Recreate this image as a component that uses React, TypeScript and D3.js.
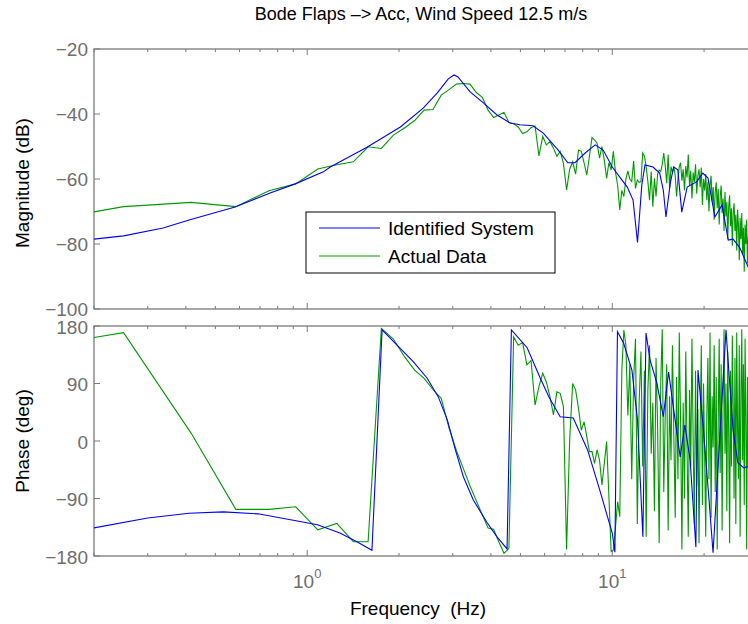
import React from 'react';
import * as d3 from 'd3';

const TITLE = 'Bode Flaps \u2013> Acc, Wind Speed 12.5 m/s';
const X_LABEL = 'Frequency\u00a0\u00a0(Hz)';
const MAG_LABEL = 'Magnitude (dB)';
const PHASE_LABEL = 'Phase (deg)';
const legendLabels = ['Identified System', 'Actual Data'];
const magTicks = [-100, -80, -60, -40, -20];
const phaseTicks = [-180, -90, 0, 90, 180];
const xMajorTicks = [1, 10];
const xMinorTicks = [0.2, 0.3, 0.4, 0.5, 0.6, 0.7, 0.8, 0.9, 2, 3, 4, 5, 6, 7, 8, 9, 20];

// Identified System (smooth model)
const idMagFreq = [0.2, 0.25, 0.337, 0.41, 0.58, 0.756, 0.913, 1.13, 1.19, 1.57, 2.02, 2.4, 2.67, 2.9, 3.03, 3.12, 3.42, 3.78, 4.19, 4.63, 4.98, 5.5, 5.94, 6.65, 7.15, 7.55, 8.15, 8.79, 9.34, 10.0, 10.6, 11.2, 11.7, 12.1, 12.5, 12.8, 13.6, 14.3, 14.7, 15.0, 15.5, 15.9, 16.4, 16.9, 17.6, 18.9, 19.8, 20.6, 21.7, 22.9, 24.0, 24.9, 26.2, 27.9, 29.0];
const idMagDb = [-78.5, -77.5, -75.1, -72.6, -68.6, -64.3, -61.5, -57.8, -56.3, -50.2, -44.0, -38.2, -33.5, -29.2, -28.0, -28.6, -33.2, -36.6, -40.3, -42.8, -43.3, -43.6, -45.9, -51.1, -55.0, -55.0, -52.0, -49.5, -51.1, -56.3, -59.5, -62.5, -66.5, -79.5, -61.8, -55.7, -56.3, -58.2, -63.4, -71.7, -61.2, -56.3, -57.2, -70.2, -62.5, -60.9, -58.2, -59.7, -71.7, -68.0, -78.8, -78.5, -81.2, -87.1, -90.0];
const idPhaseFreq = [0.2, 0.3, 0.41, 0.53, 0.69, 0.9, 1.08, 1.28, 1.46, 1.63, 1.76, 1.97, 2.23, 2.47, 2.69, 2.88, 3.06, 3.25, 3.5, 3.89, 4.19, 4.52, 4.67, 5.26, 5.8, 6.2, 6.75, 7.45, 8.3, 9.1, 10.0, 10.2, 10.4, 10.9, 11.6, 12.1, 12.6, 12.9, 13.3, 14.0, 14.7, 15.3, 15.8, 16.7, 17.3, 18.0, 18.8, 19.1, 19.9, 20.8, 21.4, 23.6, 24.0, 24.9, 25.8, 27.0, 27.9, 29.0];
const idPhaseDeg = [-136, -120.5, -113, -111, -114, -124, -131, -144, -158, -171, 174, 150, 124, 98.6, 69, 33, -14, -56, -92, -128, -150, -169, 174, 146, 99, 69, 38, 36, -14, -77, -144, -174, 171, 153, 111, 33, -150, 169, 127, 91, 38, 108, 59, -25, 25, -30, -166, 111, 17, -97, -175, 174, 122, 17, -34, -42, -40, -40];

// Actual Data, sampled at odd multiples of 1/12 Hz
const dataFreq = d3.range(171).map((k) => (2 * k + 1) / 12);
const dataMagDb = [
  -76.4, -68.5, -67.2, -68.5, -63.6, -61.5, -56.9, -55.6, -54.7, -50.1,
  -50.6, -46.5, -44.3, -42.0, -38.8, -38.6, -34.2, -32.5, -30.8, -30.6,
  -30.8, -33.4, -34.9, -38.8, -41.1, -40.3, -39.5, -42.6, -43.0, -44.0,
  -46.0, -45.5, -44.2, -43.7, -52.9, -46.9, -49.5, -48.5, -50.5, -53.0,
  -51.5, -55.2, -63.4, -57.0, -54.7, -58.5, -51.1, -51.5, -55.0, -58.8,
  -53.0, -47.2, -48.0, -49.0, -53.6, -50.0, -54.2, -59.8, -55.0, -57.2,
  -51.5, -58.0, -62.0, -69.5, -63.5, -65.4, -60.0, -57.5, -60.0, -60.8,
  -54.5, -62.9, -60.3, -61.0, -60.8, -52.0, -53.0, -56.2, -60.8, -66.5,
  -57.7, -68.5, -59.8, -65.4, -58.5, -57.2, -57.7, -55.5, -52.0, -56.0,
  -61.3, -52.5, -62.9, -56.2, -58.0, -56.2, -59.0, -65.4, -60.0, -56.2,
  -55.0, -60.5, -57.0, -63.5, -56.0, -59.5, -52.5, -62.0, -57.5, -66.0,
  -58.0, -61.0, -55.5, -64.5, -59.0, -57.0, -62.5, -56.5, -68.0, -60.0,
  -63.5, -58.5, -66.5, -61.0, -70.0, -62.0, -59.0, -67.0, -62.5, -72.5,
  -64.0, -61.0, -69.0, -63.0, -74.0, -65.5, -62.0, -70.5, -66.0, -76.0,
  -64.0, -71.5, -67.0, -78.5, -68.5, -65.0, -74.5, -69.0, -80.5, -70.0,
  -67.5, -76.0, -71.0, -82.0, -69.5, -74.0, -85.0, -72.0, -78.5, -70.5,
  -83.0, -75.0, -88.5, -74.0, -80.0, -72.5, -86.0, -78.0, -89.0, -80.0,
  -84.0,
];
const dataPhaseDeg = [
  132.5, 169.5, 12, -107, -107, -103, -139, -129, -157.6, -157.6,
  176.3, 159.6, 132, 111, 98, 80.6, 66.8, 20.3, -14.9, -43.3,
  -70, -93.7, -115.6, -136.2, -138.2, -158, -175.8, -168, 163, 150,
  154, 119, 125.7, 56.3, 85, 106, 92, 69, 40.7, 77,
  74.6, 53.7, -170, 1.6, 90, 80, 51, 17, 30, 6.8,
  -16.7, -16.7, -35, -14, -29.7, -68.9, -35, -1, -87, -173,
  -170.6, -134, -95, -118.4, 111, 173.7, 150, 40, 120, -60,
  95, 160, -130, 60, 140, -40, 110, -150, 80, 150,
  -20, 60, -110, 130, 20, -160, 90, 175, -80, 40,
  120, -140, 70, -30, 150, 10, -120, 100, -60, 170,
  30, -170, 60, -90, 140, -10, -150, 80, -40, 160,
  0, -130, 110, -70, 50, -160, 20, 150, -100, 90,
  -20, -150, 40, 130, -60, 170, -120, 70, -10, 150,
  -80, 100, -170, 30, 160, -50, 120, -140, 60, 175,
  -20, 90, -110, 140, 10, -160, 110, -40, 165, 50,
  -90, 130, -130, 170, 20, -60, 150, -150, 80, 175,
  -30, 120, -100, 160, 40, -170, 100, -40, 150, -120,
  60,
];

const FONT = "'Liberation Sans', Arial, Helvetica, sans-serif";
const AX = '#7a7a7a';
const TXT = '#6e6e6e';
const BLUE = '#0000ff';
const GREEN = '#009a00';

const W = 748;
const H = 624;
const L = 94;
const R = 757.8;
const MAG_TOP = 49;
const MAG_BOT = 309;
const PH_TOP = 326;
const PH_BOT = 556;

export default function App() {
  const x = d3.scaleLog().domain([0.2, 30]).range([L, R]);
  const yMag = d3.scaleLinear().domain([-100, -20]).range([MAG_BOT, MAG_TOP]);
  const yPh = d3.scaleLinear().domain([-180, 180]).range([PH_BOT, PH_TOP]);

  const magLine = d3.line<number>().x((_, i) => x(idMagFreq[i])).y((d) => yMag(d));
  const magDataLine = d3.line<number>().x((_, i) => x(dataFreq[i])).y((d) => yMag(d));
  const phLine = d3.line<number>().x((_, i) => x(idPhaseFreq[i])).y((d) => yPh(d));
  const phDataLine = d3.line<number>().x((_, i) => x(dataFreq[i])).y((d) => yPh(d));

  const fmt = (v: number) => (v < 0 ? '\u2212' + Math.abs(v) : String(v));

  const frame = (top: number, bot: number) => (
    <g>
      <rect x={L} y={top} width={R - L} height={bot - top} fill="none" stroke={AX} strokeWidth={1.3} />
      {xMinorTicks.map((t) => (
        <g key={'mn' + t}>
          <line x1={x(t)} x2={x(t)} y1={bot} y2={bot - 3} stroke={AX} strokeWidth={1} />
          <line x1={x(t)} x2={x(t)} y1={top} y2={top + 3} stroke={AX} strokeWidth={1} />
        </g>
      ))}
      {xMajorTicks.map((t) => (
        <g key={'mj' + t}>
          <line x1={x(t)} x2={x(t)} y1={bot} y2={bot - 6} stroke={AX} strokeWidth={1} />
          <line x1={x(t)} x2={x(t)} y1={top} y2={top + 6} stroke={AX} strokeWidth={1} />
        </g>
      ))}
    </g>
  );

  return (
    <svg width={W} height={H} style={{ position: 'absolute', left: 0, top: 0, background: '#fff' }} fontFamily={FONT}>
      <defs>
        <clipPath id="clipMag">
          <rect x={L} y={MAG_TOP} width={R - L} height={MAG_BOT - MAG_TOP} />
        </clipPath>
        <clipPath id="clipPh">
          <rect x={L} y={PH_TOP} width={R - L} height={PH_BOT - PH_TOP} />
        </clipPath>
      </defs>
      <rect x={0} y={0} width={W} height={H} fill="#fff" />

      <text x={421} y={20} textAnchor="middle" fontSize={18} fill="#000">{TITLE}</text>

      {/* Magnitude panel */}
      {frame(MAG_TOP, MAG_BOT)}
      {magTicks.map((t) => (
        <g key={'m' + t}>
          <line x1={L} x2={L + 6} y1={yMag(t)} y2={yMag(t)} stroke={AX} strokeWidth={1} />
          <line x1={R} x2={R - 6} y1={yMag(t)} y2={yMag(t)} stroke={AX} strokeWidth={1} />
          <text x={88} y={yMag(t) + 7} textAnchor="end" fontSize={19} fill={TXT}>{fmt(t)}</text>
        </g>
      ))}
      <g clipPath="url(#clipMag)">
        <path d={magDataLine(dataMagDb) || ''} fill="none" stroke={GREEN} strokeWidth={1.1} />
        <path d={magLine(idMagDb) || ''} fill="none" stroke={BLUE} strokeWidth={1.1} />
      </g>
      <text transform={`translate(29,${(MAG_TOP + MAG_BOT) / 2 + 4}) rotate(-90)`} textAnchor="middle" fontSize={19} fill="#000">{MAG_LABEL}</text>

      {/* Legend */}
      <rect x={306} y={212} width={249} height={61} fill="#fff" stroke="#000" strokeWidth={1} />
      <line x1={319} x2={380} y1={228} y2={228} stroke={BLUE} strokeWidth={1.1} />
      <line x1={319} x2={380} y1={256} y2={256} stroke={GREEN} strokeWidth={1.1} />
      <text x={388} y={234.5} fontSize={19} fill="#000">{legendLabels[0]}</text>
      <text x={388} y={262.5} fontSize={19} fill="#000">{legendLabels[1]}</text>

      {/* Phase panel */}
      {frame(PH_TOP, PH_BOT)}
      {phaseTicks.map((t) => (
        <g key={'p' + t}>
          <line x1={L} x2={L + 6} y1={yPh(t)} y2={yPh(t)} stroke={AX} strokeWidth={1} />
          <line x1={R} x2={R - 6} y1={yPh(t)} y2={yPh(t)} stroke={AX} strokeWidth={1} />
          <text x={88} y={yPh(t) + 7.5} textAnchor="end" fontSize={19} fill={TXT}>{fmt(t)}</text>
        </g>
      ))}
      <g clipPath="url(#clipPh)">
        <path d={phDataLine(dataPhaseDeg) || ''} fill="none" stroke={GREEN} strokeWidth={1.1} />
        <path d={phLine(idPhaseDeg) || ''} fill="none" stroke={BLUE} strokeWidth={1.1} />
      </g>
      <text transform={`translate(29,${(PH_TOP + PH_BOT) / 2}) rotate(-90)`} textAnchor="middle" fontSize={19} fill="#000">{PHASE_LABEL}</text>

      {xMajorTicks.map((t) => (
        <text key={'xl' + t} x={x(t)} y={588} textAnchor="middle" fontSize={19} fill={TXT}>
          10<tspan dy={-10} fontSize={13}>{Math.round(Math.log10(t))}</tspan>
        </text>
      ))}
      <text x={418} y={615} textAnchor="middle" fontSize={19} fill="#000">{X_LABEL}</text>
    </svg>
  );
}
